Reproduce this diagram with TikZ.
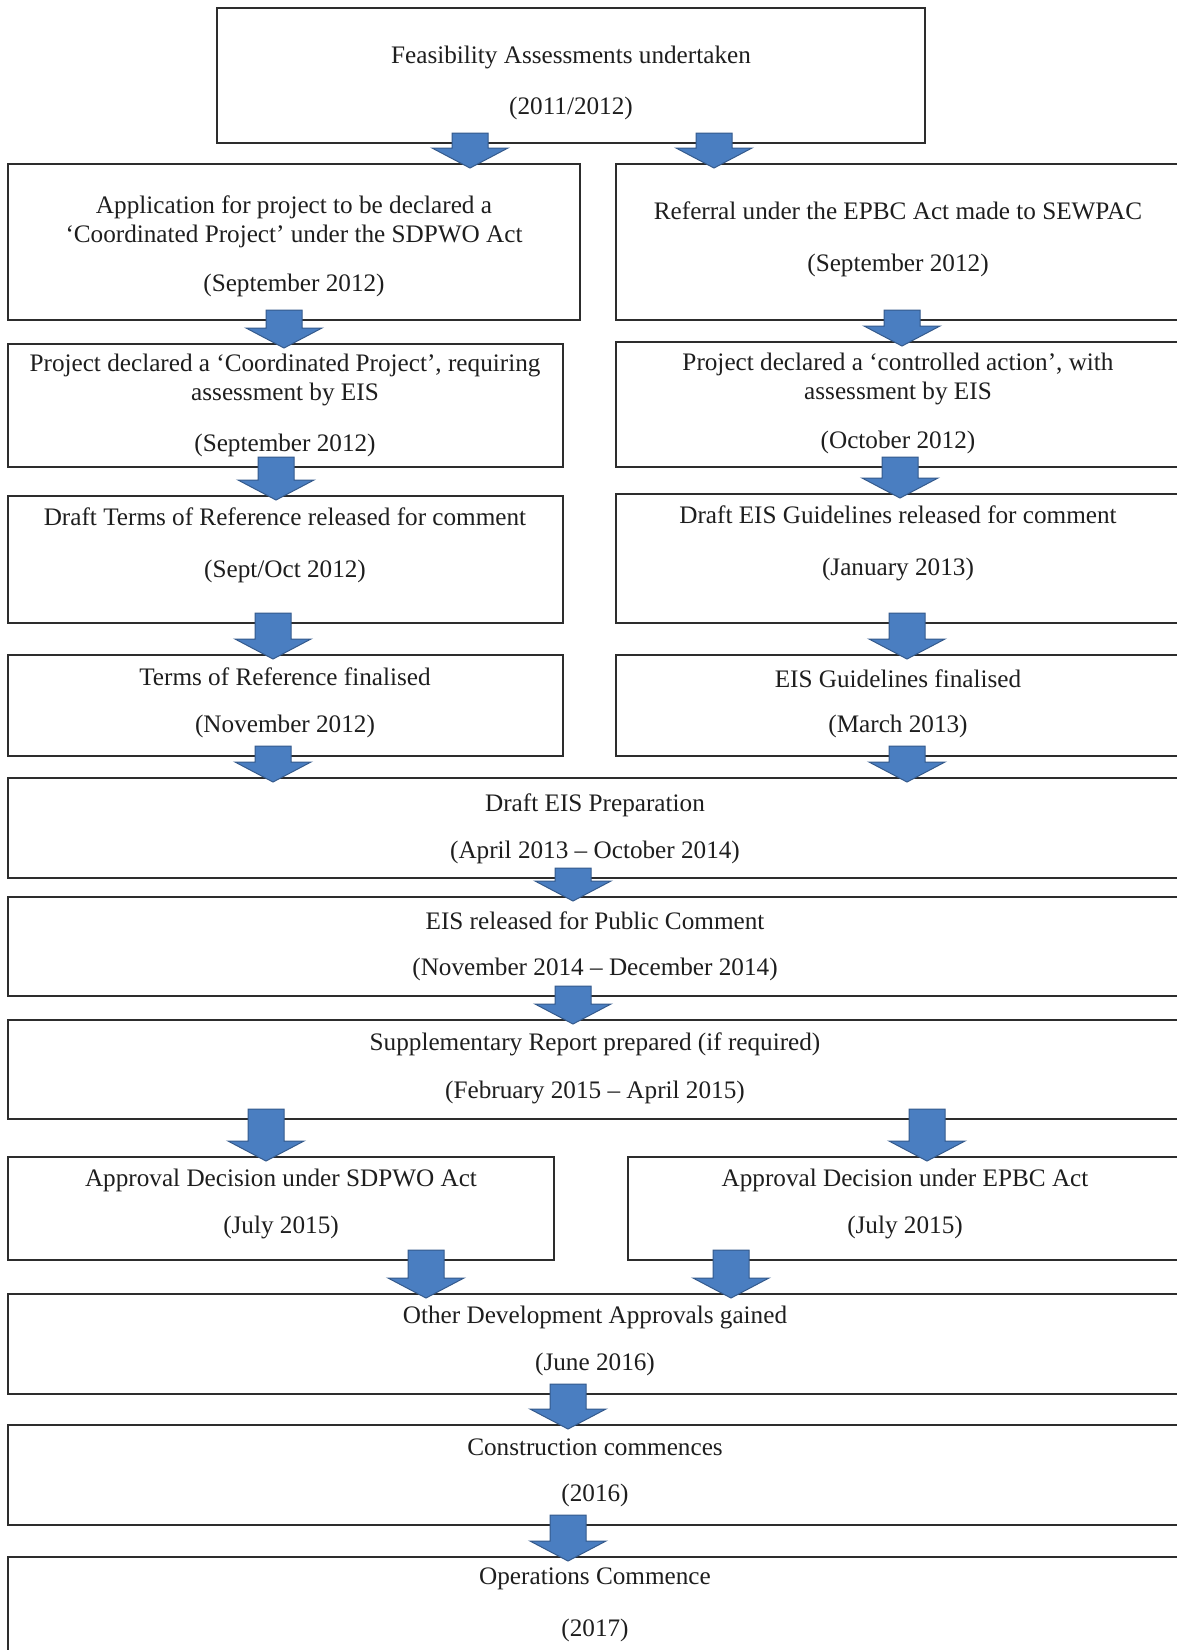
\documentclass[tikz,border=0pt]{standalone}
\usepackage{fontspec}
\setmainfont{Liberation Serif}
\usetikzlibrary{calc}
\definecolor{arrowblue}{RGB}{74,126,193}
\definecolor{arrowedge}{RGB}{52,90,140}
\definecolor{boxline}{RGB}{45,45,45}
\definecolor{txtcol}{RGB}{30,30,30}
\tikzset{
  box/.style={draw=boxline, line width=1.1pt, rectangle, inner sep=0pt, outer sep=0pt, fill=white},
  txt/.style={font=\fontsize{12.6}{14.5}\selectfont, text=txtcol, inner sep=0pt, align=center, anchor=center},
  blockarr/.style={fill=arrowblue, draw=arrowedge, line width=0.5pt, line join=miter},
}
\newcommand\mkbox[5]{\node[box, anchor=north west, minimum width=#4*0.5pt, minimum height=#5*0.5pt] (#1) at (#2,#3) {};}
\newcommand\blockarrow[3]{%
  \path[blockarr] let \p1=(#2.south -| #1,0), \p2=(#3.north -| #1,0) in
    (\x1-9pt,\y1+5pt) -- (\x1+9pt,\y1+5pt) -- (\x1+9pt,\y2+8pt) -- (\x1+19pt,\y2+8pt)
    -- (\x2,\y2-2pt) -- (\x1-19pt,\y2+8pt) -- (\x1-9pt,\y2+8pt) -- cycle;
}
\begin{document}
\begin{tikzpicture}[x=0.5pt, y=-0.5pt]
\useasboundingbox (0,0) rectangle (1177,1650);
\clip (0,0) rectangle (1177,1650);
\fill[white] (0,0) rectangle (1177,1650);

% boxes
\mkbox{feas}{217}{8}{708}{135}
\mkbox{app}{8}{164}{572}{156}
\mkbox{ref}{616}{164}{570}{156}
\mkbox{coord}{8}{344}{555}{123}
\mkbox{ctrl}{616}{342}{570}{125}
\mkbox{dtor}{8}{496}{555}{127}
\mkbox{dguid}{616}{494}{570}{129}
\mkbox{tor}{8}{655}{555}{101}
\mkbox{guid}{616}{655}{570}{101}
\mkbox{draft}{8}{778}{1178}{100}
\mkbox{pub}{8}{897}{1178}{99}
\mkbox{supp}{8}{1020}{1178}{99}
\mkbox{sdpwo}{8}{1157}{546}{103}
\mkbox{epbc}{628}{1157}{558}{103}
\mkbox{other}{8}{1294}{1178}{100}
\mkbox{constr}{8}{1425}{1178}{100}
\mkbox{ops}{8}{1557}{1178}{120}

% texts
\node[txt] (feas1) at (571,57) {Feasibility Assessments undertaken};
\node[txt] (feas2) at (571,108) {(2011/2012)};
\node[txt] (app1) at (294,222) {Application for project to be declared a\\‘Coordinated Project’ under the SDPWO Act};
\node[txt] (app2) at (294,285) {(September 2012)};
\node[txt] (ref1) at (898,211) {Referral under the EPBC Act made to SEWPAC};
\node[txt] (ref2) at (898,265) {(September 2012)};
\node[txt] (coord1) at (285,380) {Project declared a ‘Coordinated Project’, requiring\\assessment by EIS};
\node[txt] (coord2) at (285,445) {(September 2012)};
\node[txt] (ctrl1) at (898,379) {Project declared a ‘controlled action’, with\\assessment by EIS};
\node[txt] (ctrl2) at (898,442) {(October 2012)};
\node[txt] (dtor1) at (285,517) {Draft Terms of Reference released for comment};
\node[txt] (dtor2) at (285,571) {(Sept/Oct 2012)};
\node[txt] (dguid1) at (898,515) {Draft EIS Guidelines released for comment};
\node[txt] (dguid2) at (898,569) {(January 2013)};
\node[txt] (tor1) at (285,677) {Terms of Reference finalised};
\node[txt] (tor2) at (285,726) {(November 2012)};
\node[txt] (guid1) at (898,679) {EIS Guidelines finalised};
\node[txt] (guid2) at (898,726) {(March 2013)};
\node[txt] (draft1) at (595,805) {Draft EIS Preparation};
\node[txt] (draft2) at (595,852) {(April 2013 – October 2014)};
\node[txt] (pub1) at (595,921) {EIS released for Public Comment};
\node[txt] (pub2) at (595,969) {(November 2014 – December 2014)};
\node[txt] (supp1) at (595,1044) {Supplementary Report prepared (if required)};
\node[txt] (supp2) at (595,1092) {(February 2015 – April 2015)};
\node[txt] (sdpwo1) at (281,1180) {Approval Decision under SDPWO Act};
\node[txt] (sdpwo2) at (281,1227) {(July 2015)};
\node[txt] (epbc1) at (905,1180) {Approval Decision under EPBC Act};
\node[txt] (epbc2) at (905,1227) {(July 2015)};
\node[txt] (other1) at (595,1317) {Other Development Approvals gained};
\node[txt] (other2) at (595,1364) {(June 2016)};
\node[txt] (constr1) at (595,1447) {Construction commences};
\node[txt] (constr2) at (595,1495) {(2016)};
\node[txt] (ops1) at (595,1579) {Operations Commence};
\node[txt] (ops2) at (595,1630) {(2017)};

% block arrows
\blockarrow{470}{feas}{app}
\blockarrow{714}{feas}{ref}
\blockarrow{284}{app}{coord}
\blockarrow{902}{ref}{ctrl}
\blockarrow{276}{coord}{dtor}
\blockarrow{900}{ctrl}{dguid}
\blockarrow{273}{dtor}{tor}
\blockarrow{907}{dguid}{guid}
\blockarrow{273}{tor}{draft}
\blockarrow{907}{guid}{draft}
\blockarrow{573}{draft}{pub}
\blockarrow{573}{pub}{supp}
\blockarrow{266}{supp}{sdpwo}
\blockarrow{927}{supp}{epbc}
\blockarrow{426}{sdpwo}{other}
\blockarrow{731}{epbc}{other}
\blockarrow{568}{other}{constr}
\blockarrow{568}{constr}{ops}
\end{tikzpicture}
\end{document}
